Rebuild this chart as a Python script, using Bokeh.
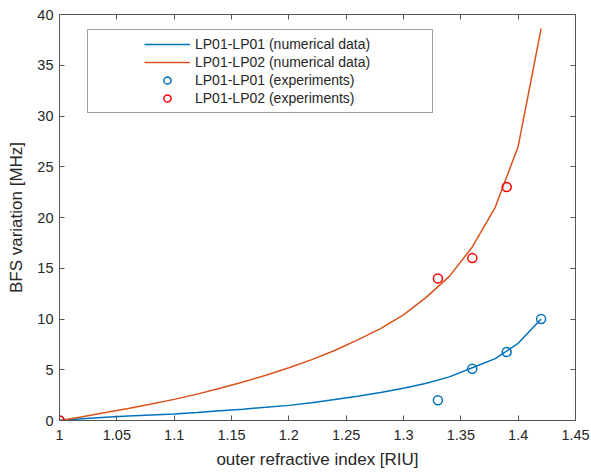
from bokeh.plotting import figure
from bokeh.models import (FixedTicker, LinearAxis, Legend, LegendItem, Range1d)
from bokeh.embed import file_html
from bokeh.resources import INLINE

# ---- data ----
x_num = [1.00, 1.02, 1.04, 1.06, 1.08, 1.10, 1.12, 1.14, 1.16, 1.18, 1.20,
         1.22, 1.24, 1.26, 1.28, 1.30, 1.32, 1.34, 1.36, 1.38, 1.40, 1.42]
lp01_lp01_num = [0.0, 0.17, 0.33, 0.45, 0.55, 0.64, 0.78, 0.95, 1.12, 1.30, 1.49,
                 1.75, 2.06, 2.38, 2.75, 3.18, 3.67, 4.3, 5.2, 6.1, 7.6, 10.0]
lp01_lp02_num = [0.0, 0.38, 0.78, 1.19, 1.62, 2.08, 2.6, 3.18, 3.8, 4.45, 5.2,
                 6.0, 6.9, 7.95, 9.05, 10.4, 12.15, 14.2, 17.1, 21.0, 27.0, 38.6]

x_exp_01 = [1.00, 1.33, 1.36, 1.39, 1.42]
lp01_lp01_exp = [0.0, 2.0, 5.1, 6.75, 10.0]
x_exp_02 = [1.00, 1.33, 1.36, 1.39]
lp01_lp02_exp = [0.0, 14.0, 16.0, 23.0]

x_ticks = [1.0, 1.05, 1.1, 1.15, 1.2, 1.25, 1.3, 1.35, 1.4, 1.45]
x_tick_labels = ["1", "1.05", "1.1", "1.15", "1.2", "1.25", "1.3", "1.35", "1.4", "1.45"]
y_ticks = [0, 5, 10, 15, 20, 25, 30, 35, 40]

series_labels = ["LP01-LP01 (numerical data)", "LP01-LP02 (numerical data)",
                 "LP01-LP01 (experiments)", "LP01-LP02 (experiments)"]

# ---- styling ----
FONT = "Liberation Sans"
TXT = "#262626"
AX = "#555555"
BLUE = "#0072BD"
ORANGE = "#D95319"
RED = "#FF0000"

p = figure(frame_width=516, frame_height=406, output_backend="svg",
           toolbar_location=None,
           x_range=Range1d(1.0, 1.45), y_range=Range1d(0, 40),
           min_border_left=59, min_border_right=16, min_border_top=14,
           min_border_bottom=53, background_fill_color="white",
           border_fill_color="white", outline_line_color=None)
p.grid.visible = False

r1 = p.line(x_num, lp01_lp01_num, line_color=BLUE, line_width=1.5)
r2 = p.line(x_num, lp01_lp02_num, line_color=ORANGE, line_width=1.5)
r3 = p.scatter(x_exp_01, lp01_lp01_exp, marker="circle", size=9, fill_color=None,
               line_color=BLUE, line_width=1.5)
r4 = p.scatter(x_exp_02, lp01_lp02_exp, marker="circle", size=9, fill_color=None,
               line_color=RED, line_width=1.5)


def style_axis(ax, labels=True):
    ax.axis_line_color = AX
    ax.axis_line_width = 1
    ax.major_tick_line_color = AX
    ax.major_tick_in = 5
    ax.major_tick_out = 0
    ax.minor_tick_line_color = None
    ax.major_label_text_font = FONT
    ax.major_label_text_color = TXT
    ax.axis_label_text_font = FONT
    ax.axis_label_text_color = TXT
    ax.axis_label_text_font_style = "normal"
    ax.major_label_text_font_size = "14.5px"
    ax.axis_label_text_font_size = "17px"
    if not labels:
        ax.major_label_standoff = 0


xa = p.xaxis[0]
ya = p.yaxis[0]
xa.ticker = FixedTicker(ticks=x_ticks)
xa.major_label_overrides = {t: l for t, l in zip(x_ticks, x_tick_labels)}
ya.ticker = FixedTicker(ticks=y_ticks)
style_axis(xa)
style_axis(ya)
xa.axis_label = "outer refractive index [RIU]"
ya.axis_label = "BFS variation [MHz]"
xa.major_label_standoff = 9
xa.axis_label_standoff = 7
ya.major_label_standoff = 6
ya.axis_label_standoff = 8

top = LinearAxis(ticker=FixedTicker(ticks=x_ticks))
right = LinearAxis(ticker=FixedTicker(ticks=y_ticks))
style_axis(top, labels=False)
style_axis(right, labels=False)
top.major_label_overrides = {t: "" for t in x_ticks}
right.major_label_overrides = {t: "" for t in y_ticks}
p.add_layout(top, "above")
p.add_layout(right, "right")

legend = Legend(items=[LegendItem(label=series_labels[0], renderers=[r1]),
                       LegendItem(label=series_labels[1], renderers=[r2]),
                       LegendItem(label=series_labels[2], renderers=[r3]),
                       LegendItem(label=series_labels[3], renderers=[r4])],
                location=(28, 307), orientation="vertical",
                glyph_width=46, glyph_height=18, label_height=18, spacing=0,
                padding=5, label_standoff=5, label_width=232,
                label_text_font=FONT, label_text_font_size="14px",
                label_text_color=TXT, border_line_color="#404040",
                border_line_width=1, background_fill_color="white",
                background_fill_alpha=1.0,
                title=" ", title_location="left", title_text_font_size="1px",
                title_standoff=50)
p.add_layout(legend, "center")

open("out.html", "w").write(file_html(p, INLINE))
